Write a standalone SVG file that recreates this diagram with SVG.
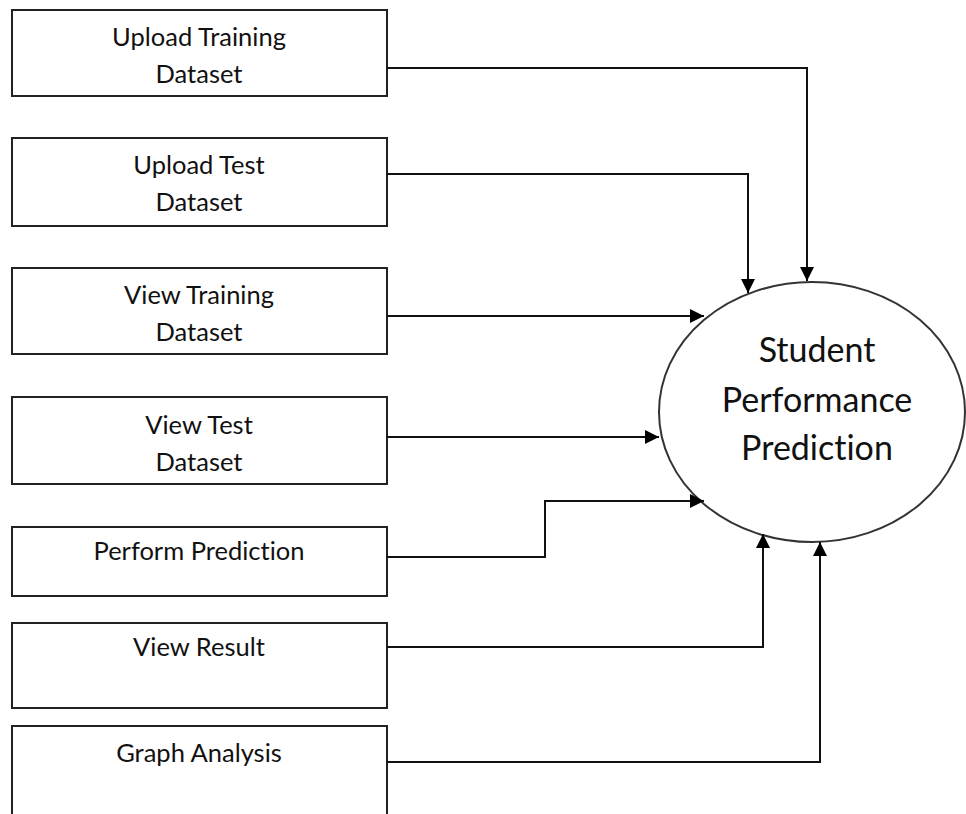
<svg xmlns="http://www.w3.org/2000/svg" width="966" height="814" viewBox="0 0 966 814">
<defs>
<marker id="arr" viewBox="0 0 10 10" refX="10" refY="5" markerWidth="15" markerHeight="14" markerUnits="userSpaceOnUse" orient="auto">
<path d="M0,0 L10,5 L0,10 z" fill="#000"/>
</marker>
<style>
.box{fill:#fff;stroke:#222;stroke-width:2}
.t{font-family:Lato,"Liberation Sans",sans-serif;font-size:25.5px;fill:#111;text-anchor:middle;font-variant-ligatures:none;font-feature-settings:"liga" 0,"clig" 0}
.big{font-size:34px}
.c{fill:none;stroke:#111;stroke-width:2;marker-end:url(#arr)}
</style>
</defs>
<rect width="966" height="814" fill="#fff"/>
<g id="n1"><rect class="box" x="12" y="10" width="375" height="86"/><text class="t" x="199" y="46">Upload Training</text><text class="t" x="199" y="83">Dataset</text></g>
<g id="n2"><rect class="box" x="12" y="138" width="375" height="88"/><text class="t" x="199" y="174">Upload Test</text><text class="t" x="199" y="211">Dataset</text></g>
<g id="n3"><rect class="box" x="12" y="268" width="375" height="86"/><text class="t" x="199" y="304">View Training</text><text class="t" x="199" y="341">Dataset</text></g>
<g id="n4"><rect class="box" x="12" y="397" width="375" height="87"/><text class="t" x="199" y="434">View Test</text><text class="t" x="199" y="471">Dataset</text></g>
<g id="n5"><rect class="box" x="12" y="527" width="375" height="69"/><text class="t" x="199" y="560">Perform Prediction</text></g>
<g id="n6"><rect class="box" x="12" y="623" width="375" height="85"/><text class="t" x="199" y="656">View Result</text></g>
<g id="n7"><rect class="box" x="12" y="726" width="375" height="100"/><text class="t" x="199" y="762">Graph Analysis</text></g>
<g id="center"><ellipse cx="812" cy="412" rx="153" ry="130" fill="#fff" stroke="#333" stroke-width="2"/><text class="t big" x="817" y="362">Student</text><text class="t big" x="817" y="412">Performance</text><text class="t big" x="817" y="460">Prediction</text></g>
<g id="connectors">
<polyline class="c" points="387,68 807,68 807,281"/>
<polyline class="c" points="387,174 748,174 748,293"/>
<polyline class="c" points="387,316 704,316"/>
<polyline class="c" points="387,437 659,437"/>
<polyline class="c" points="387,557 545,557 545,501 704,501"/>
<polyline class="c" points="387,647 763,647 763,534"/>
<polyline class="c" points="387,762 820,762 820,542"/>
</g>
</svg>
